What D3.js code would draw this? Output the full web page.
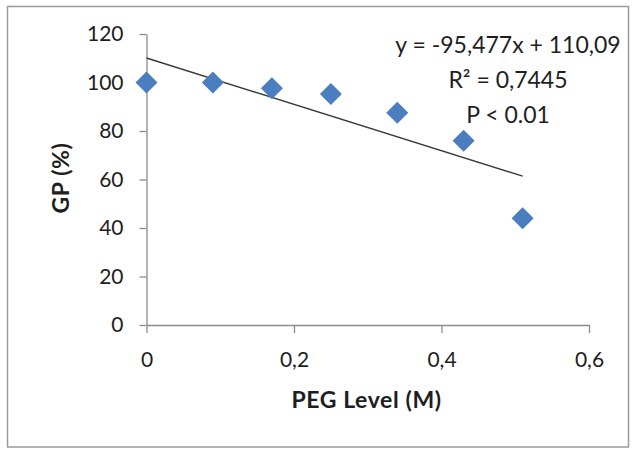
<!DOCTYPE html>
<html><head><meta charset="utf-8">
<script src="https://cdn.jsdelivr.net/npm/d3@7"></script>
<style>
html,body{margin:0;padding:0;background:#fff;}
svg{display:block;}
</style></head>
<body>
<script>
const pegLevels = [0, 0.09, 0.17, 0.25, 0.34, 0.43, 0.51];
const gpValues = [100, 100, 97.6, 95.3, 87.5, 76, 44];
const xTicks = [0, 0.2, 0.4, 0.6];
const yTicks = [0, 20, 40, 60, 80, 100, 120];
const trendSlope = -95.477;
const trendIntercept = 110.09;
const annotationLines = ["y = -95,477x + 110,09", "R² = 0,7445", "P < 0.01"];
const xTitle = "PEG Level (M)";
const yTitle = "GP (%)";

const W = 632, H = 449;
const font = "Lato, 'Open Sans', sans-serif";
const svg = d3.select("body").append("svg").attr("width", W).attr("height", H);

// outer border
svg.append("rect").attr("x", 7.5).attr("y", 6.5).attr("width", 621).attr("height", 440.5)
  .attr("fill", "#fff").attr("stroke", "#9a9a9a").attr("stroke-width", 1.5);

const x = d3.scaleLinear().domain([0, 0.6]).range([146.5, 589]);
const y = d3.scaleLinear().domain([0, 120]).range([325, 34]);

const fmt = d => d3.format("~g")(d).replace(".", ",");

const gx = svg.append("g").attr("transform", `translate(0,${y(0)})`)
  .call(d3.axisBottom(x).tickValues(xTicks).tickFormat(fmt).tickSize(8).tickSizeOuter(0).tickPadding(19));
const gy = svg.append("g").attr("transform", `translate(${x(0)},0)`)
  .call(d3.axisLeft(y).tickValues(yTicks).tickFormat(d3.format("d")).tickSize(7).tickSizeOuter(0).tickPadding(16));

[gx, gy].forEach(g => {
  g.select(".domain").attr("stroke", "#8c8c8c").attr("stroke-width", 1.3);
  g.selectAll(".tick line").attr("stroke", "#8c8c8c").attr("stroke-width", 1.3);
  g.selectAll(".tick text").attr("fill", "#1e1e1e").style("font-family", font).style("font-size", "21px");
});

// trendline
svg.append("line")
  .attr("x1", x(pegLevels[0])).attr("y1", y(trendSlope * pegLevels[0] + trendIntercept))
  .attr("x2", x(pegLevels[pegLevels.length - 1])).attr("y2", y(trendSlope * pegLevels[pegLevels.length - 1] + trendIntercept))
  .attr("stroke", "#3a3a3a").attr("stroke-width", 1.4);

// markers
const sym = d3.symbol().type(d3.symbolSquare).size(242);
svg.selectAll("path.pt").data(pegLevels).enter().append("path")
  .attr("class", "pt")
  .attr("d", sym)
  .attr("transform", (d, i) => `translate(${x(d)},${y(gpValues[i])}) rotate(45)`)
  .attr("fill", "#4a7ebf");

// annotation
const ann = svg.append("text").attr("text-anchor", "middle")
  .style("font-family", font).style("font-size", "23px").attr("fill", "#1e1e1e");
annotationLines.forEach((t, i) => {
  ann.append("tspan").attr("x", 508).attr("y", 53 + i * 35).text(t);
});

// axis titles
svg.append("text").attr("x", 366.5).attr("y", 408).attr("text-anchor", "middle")
  .style("font-family", font).style("font-size", "23px").style("font-weight", "bold")
  .style("letter-spacing", "0.6px")
  .attr("fill", "#1e1e1e").text(xTitle);
svg.append("text").attr("transform", "translate(69,178) rotate(-90)").attr("text-anchor", "middle")
  .style("font-family", font).style("font-size", "23px").style("font-weight", "bold")
  .style("letter-spacing", "0.6px")
  .attr("fill", "#1e1e1e").text(yTitle);
</script>
</body></html>
